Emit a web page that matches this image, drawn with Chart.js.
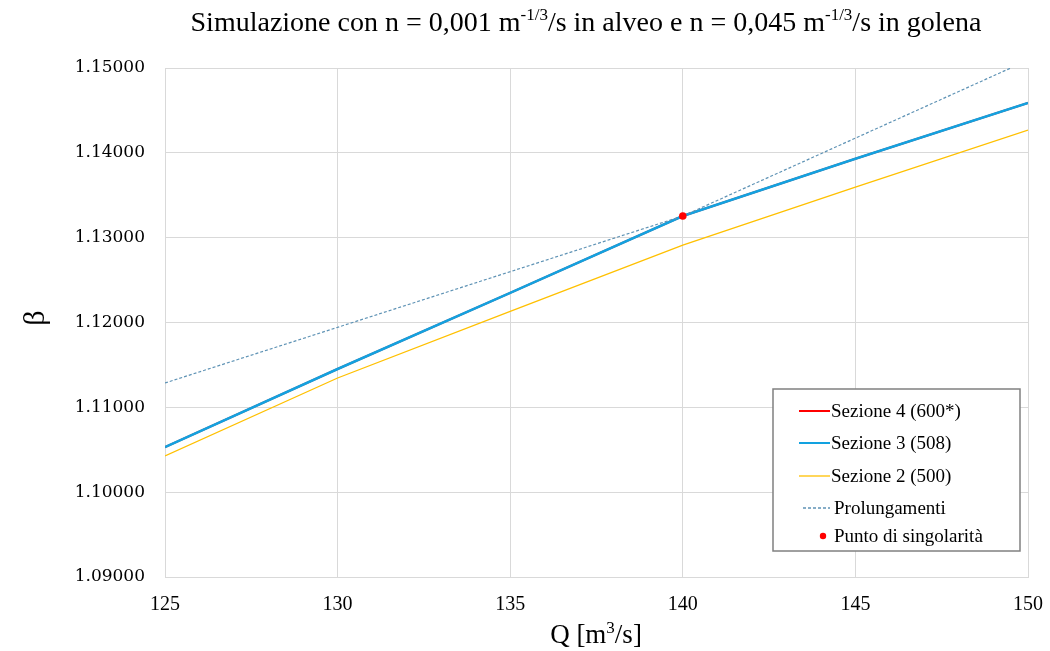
<!DOCTYPE html>
<html>
<head>
<meta charset="utf-8">
<script src="https://cdn.jsdelivr.net/npm/chart.js@4.4.1/dist/chart.umd.min.js"></script>
<style>
	html, body { margin: 0; padding: 0; background: #fff; }
	#wrap { width: 1050px; height: 651px; }
</style>
</head>
<body>
<div id="wrap"><canvas id="betaChart" width="1050" height="651"></canvas></div>
<script>
const portate = [125, 130, 135, 140, 145, 150];
const sezione4 = [1.10532, 1.11452, 1.12350, 1.13255, 1.13930, 1.14587];
const sezione3 = [1.10532, 1.11452, 1.12350, 1.13255, 1.13930, 1.14587];
const sezione2 = [1.10426, 1.11346, 1.12130, 1.12913, 1.13597, 1.14269];
// prolungamenti dei due tratti rettilinei oltre il punto di singolarità
const prolungQ = [125, 140, 149.5];
const prolungBeta = [1.11287, 1.13255, 1.15000];
const singolaritaQ = [140];
const singolaritaBeta = [1.13255];

const yTicks = [1.09, 1.10, 1.11, 1.12, 1.13, 1.14, 1.15];
const xTicks = [125, 130, 135, 140, 145, 150];

const SERIF = '"Liberation Serif", "DejaVu Serif", serif';

const toPoints = (xs, ys) => xs.map((x, i) => ({ x: x, y: ys[i] }));

const legendItems = [
	{ text: 'Sezione 4 (600*)', type: 'line', color: '#ff0000', width: 2 },
	{ text: 'Sezione 3 (508)', type: 'line', color: '#12a2e0', width: 2 },
	{ text: 'Sezione 2 (500)', type: 'line', color: '#ffc000', width: 1.3 },
	{ text: 'Prolungamenti', type: 'dash', color: '#5f93b5', width: 1.3 },
	{ text: 'Punto di singolarità', type: 'dot', color: '#ff0000' }
];

// draws text made of normal and superscript pieces, centred on cx
function drawRich(ctx, parts, cx, baseline, size) {
	const full = size + 'px ' + SERIF;
	const small = Math.round(size * 0.62) + 'px ' + SERIF;
	let total = 0;
	parts.forEach(p => {
		ctx.font = p.sup ? small : full;
		total += ctx.measureText(p.t).width;
	});
	let x = cx - total / 2;
	ctx.textAlign = 'left';
	ctx.textBaseline = 'alphabetic';
	parts.forEach(p => {
		ctx.font = p.sup ? small : full;
		ctx.fillText(p.t, x, p.sup ? baseline - size * 0.38 : baseline);
		x += ctx.measureText(p.t).width;
	});
}

const decorPlugin = {
	id: 'decor',
	afterDraw(chart) {
		const ctx = chart.ctx;
		ctx.save();
		ctx.fillStyle = '#000';

		drawRich(ctx, [
			{ t: 'Simulazione con n = 0,001 m' },
			{ t: '-1/3', sup: true },
			{ t: '/s in alveo e n = 0,045 m' },
			{ t: '-1/3', sup: true },
			{ t: '/s in golena' }
		], 586, 31, 28);

		drawRich(ctx, [
			{ t: 'Q [m' },
			{ t: '3', sup: true },
			{ t: '/s]' }
		], 596, 643, 27);

		ctx.save();
		ctx.translate(36, 318);
		ctx.rotate(-Math.PI / 2);
		ctx.font = '30px ' + SERIF;
		ctx.textAlign = 'center';
		ctx.textBaseline = 'middle';
		ctx.fillText('β', 0, 0);
		ctx.restore();

		// legenda
		const bx = 773, by = 389, bw = 247, bh = 162;
		ctx.fillStyle = '#fff';
		ctx.fillRect(bx, by, bw, bh);
		ctx.strokeStyle = '#808080';
		ctx.lineWidth = 1.5;
		ctx.strokeRect(bx, by, bw, bh);

		const rows = [411, 443, 476, 508, 536];
		ctx.font = '19px ' + SERIF;
		ctx.textBaseline = 'middle';
		ctx.textAlign = 'left';
		legendItems.forEach((it, i) => {
			const y = rows[i];
			if (it.type === 'line' || it.type === 'dash') {
				ctx.beginPath();
				ctx.strokeStyle = it.color;
				ctx.lineWidth = it.width;
				ctx.setLineDash(it.type === 'dash' ? [3, 2] : []);
				ctx.moveTo(it.type === 'dash' ? 803 : 799, y);
				ctx.lineTo(830, y);
				ctx.stroke();
				ctx.setLineDash([]);
			} else {
				ctx.beginPath();
				ctx.fillStyle = it.color;
				ctx.arc(823, y, 3.2, 0, Math.PI * 2);
				ctx.fill();
			}
			ctx.fillStyle = '#000';
			ctx.fillText(it.text, it.type === 'line' ? 831 : 834, y + 1);
		});
		ctx.restore();
	}
};

// the first dataset is painted last, so it ends up on top
new Chart(document.getElementById('betaChart'), {
	type: 'line',
	data: {
		datasets: [
			{
				label: 'Punto di singolarità',
				data: toPoints(singolaritaQ, singolaritaBeta),
				showLine: false,
				pointRadius: 3.8,
				pointBackgroundColor: '#ff0000',
				pointBorderWidth: 0
			},
			{
				label: 'Prolungamenti',
				data: toPoints(prolungQ, prolungBeta),
				borderColor: '#5f93b5',
				borderWidth: 1.2,
				borderDash: [3, 2],
				pointRadius: 0,
				tension: 0
			},
			{
				label: 'Sezione 3 (508)',
				data: toPoints(portate, sezione3),
				borderColor: '#12a2e0',
				borderWidth: 2.5,
				pointRadius: 0,
				tension: 0
			},
			{
				label: 'Sezione 4 (600*)',
				data: toPoints(portate, sezione4),
				borderColor: '#ff0000',
				borderWidth: 2,
				pointRadius: 0,
				tension: 0
			},
			{
				label: 'Sezione 2 (500)',
				data: toPoints(portate, sezione2),
				borderColor: '#ffc000',
				borderWidth: 1.3,
				pointRadius: 0,
				tension: 0
			}
		]
	},
	options: {
		responsive: false,
		animation: false,
		layout: { padding: { top: 68, right: 0, left: 0, bottom: 0 } },
		scales: {
			x: {
				type: 'linear',
				min: 125,
				max: 150,
				afterBuildTicks: axis => { axis.ticks = xTicks.map(v => ({ value: v })); },
				afterFit: axis => {
					axis.height = 74;
					axis.paddingLeft = 0;
					axis.paddingRight = 22;
				},
				grid: { color: '#d9d9d9', lineWidth: 1, drawTicks: false },
				border: { color: '#d9d9d9' },
				ticks: {
					color: '#000',
					padding: 16,
					font: { family: SERIF, size: 20 },
					callback: v => String(v)
				}
			},
			y: {
				min: 1.09,
				max: 1.15,
				afterBuildTicks: axis => { axis.ticks = yTicks.map(v => ({ value: v })); },
				afterFit: axis => { axis.width = 165; },
				grid: { color: '#d9d9d9', lineWidth: 1, drawTicks: false },
				border: { color: '#d9d9d9' },
				ticks: {
					color: '#000',
					padding: 20,
					font: { family: '"DejaVu Serif", serif', size: 17 },
					callback: v => Number(v).toFixed(5)
				}
			}
		},
		plugins: {
			legend: { display: false },
			title: { display: false },
			tooltip: { enabled: false }
		}
	},
	plugins: [decorPlugin]
});
</script>
</body>
</html>
